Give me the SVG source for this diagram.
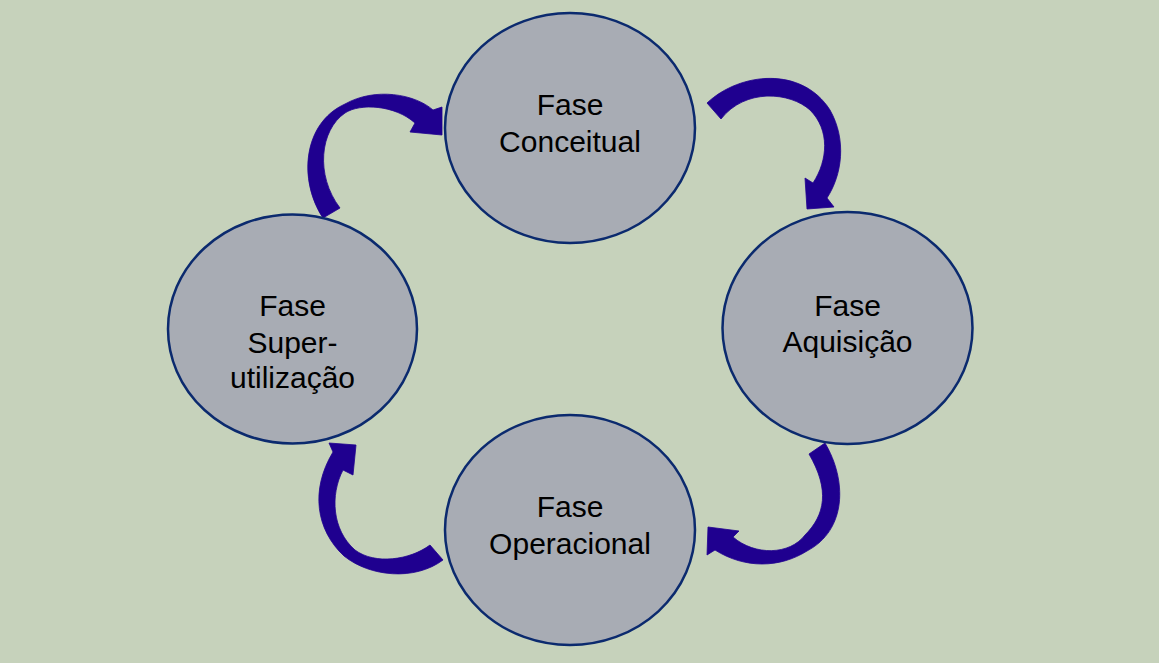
<svg xmlns="http://www.w3.org/2000/svg" width="1159" height="663" viewBox="0 0 1159 663">
<style>
.bg{fill:#c6d2bb}
.node ellipse{fill:#a8acb4;stroke:#0b2a6e;stroke-width:2.5}
.node text{font-family:"Liberation Sans",Arial,sans-serif;font-size:30px;fill:#000;text-anchor:middle}
.arrow{fill:#1f008f;stroke:#1f008f;stroke-width:0.8;stroke-linejoin:round}
</style>
<rect class="bg" x="0" y="0" width="1159" height="663"/>
<g id="connectors">
<path class="arrow" d="M707,103 C740,72 802,66 830,110 C847,140 842,175 827,198 L834,207 L807,209 L805,178 L813,183 C828,160 830,130 810,110 C790,92 745,88 721,119 Z"/>
<path class="arrow" d="M825,443 C847,480 847,530 807,551 C780,568 745,569 715,550 L707,555 L708,527 L739,531 L733,537 C755,556 790,555 805,535 C825,515 830,490 809,454 Z"/>
<path class="arrow" d="M443,560 C415,581 370,577 344,556 C316,530 310,490 333,452 L329,443 L356,445 L353,475 L343,470 C330,495 332,530 355,550 C375,565 410,560 430,545 Z"/>
<path class="arrow" d="M323,218 C298,180 303,123 345,104 C375,87 415,94 433,110 L442,107 L442,135 L410,132 L415,123 C395,105 360,103 345,113 C320,130 315,175 340,208 Z"/>
</g>
<g id="node-conceitual" class="node">
<ellipse cx="570" cy="128" rx="125" ry="115"/>
<text x="570" y="115">Fase</text>
<text x="570" y="152">Conceitual</text>
</g>
<g id="node-aquisicao" class="node">
<ellipse cx="847.5" cy="328" rx="125" ry="116"/>
<text x="847.5" y="316">Fase</text>
<text x="847.5" y="352">Aquisição</text>
</g>
<g id="node-operacional" class="node">
<ellipse cx="570" cy="530" rx="125" ry="115"/>
<text x="570" y="517">Fase</text>
<text x="570" y="554">Operacional</text>
</g>
<g id="node-superutilizacao" class="node">
<ellipse cx="292.5" cy="329" rx="124.5" ry="114.5"/>
<text x="292.5" y="316">Fase</text>
<text x="292.5" y="353">Super-</text>
<text x="292.5" y="388">utilização</text>
</g>
</svg>
